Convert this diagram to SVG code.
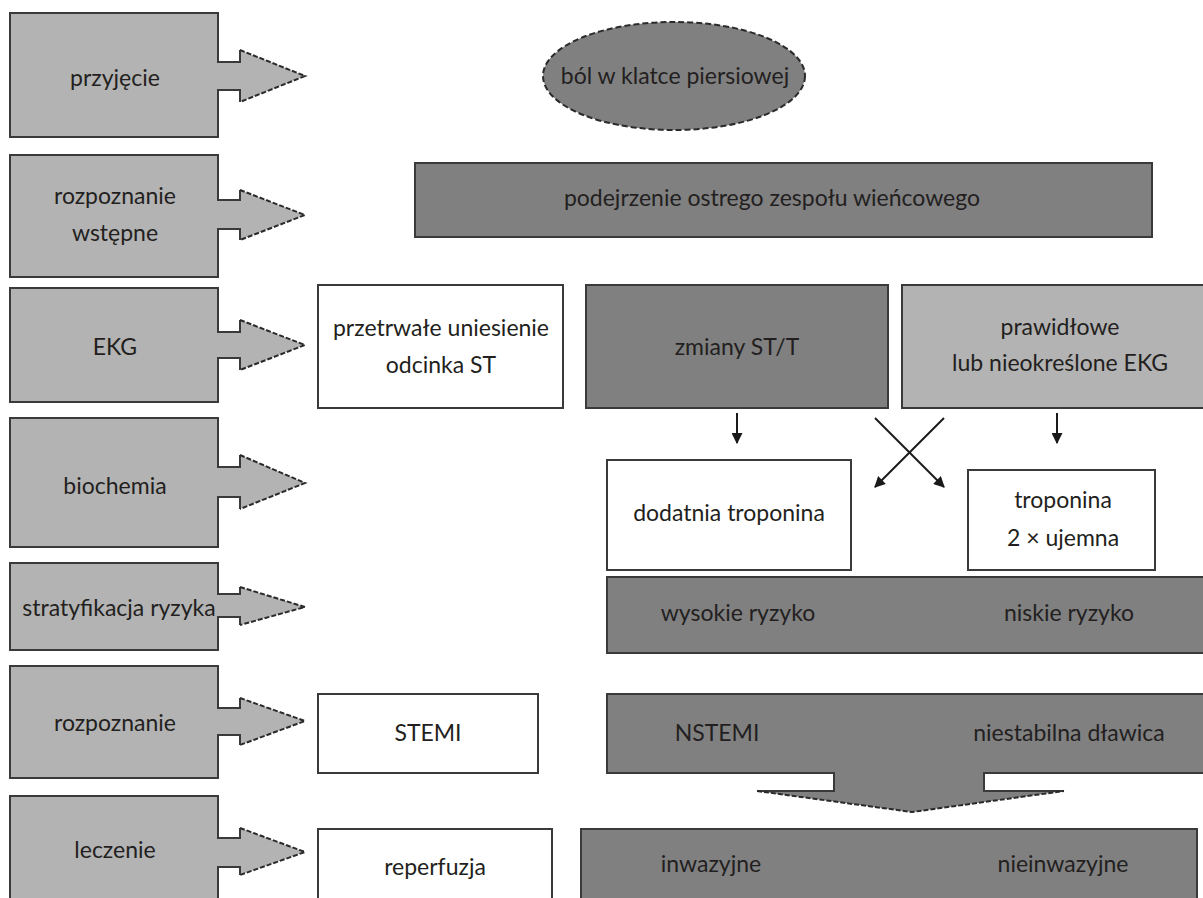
<svg xmlns="http://www.w3.org/2000/svg" width="1203" height="898" viewBox="0 0 1203 898">
<style>
text{font-family:Lato,"Noto Sans","DejaVu Sans",sans-serif;font-size:23px;fill:#231f20;text-anchor:middle}
.lf{fill:#b3b3b3;stroke:none}
.ls{fill:none;stroke:#3a3a3a;stroke-width:2}
.ld{fill:none;stroke:#2a2a2a;stroke-width:2;stroke-dasharray:5,2}
.dark{fill:#808080;stroke:#3a3a3a;stroke-width:2}
.light{fill:#b3b3b3;stroke:#3a3a3a;stroke-width:2}
.white{fill:#ffffff;stroke:#3a3a3a;stroke-width:2}
.con{fill:none;stroke:#1a1a1a;stroke-width:2}
</style>
<defs>
<marker id="ah" viewBox="0 0 10 10" refX="9" refY="5" markerWidth="5.5" markerHeight="5.5" orient="auto" markerUnits="strokeWidth">
<path d="M0,0 L10,5 L0,10 Z" fill="#1a1a1a"/>
</marker>
</defs>
<rect width="1203" height="898" fill="#ffffff"/>

<g id="n-przyjecie">
<path class="lf" d="M10,13 H218 V62 H240 V50 L305,76 L240,102 V90 H218 V137 H10 Z"/>
<path class="ls" d="M240,50 V62 H218 V13 H10 V137 H218 V90 H240 V102"/>
<path class="ld" d="M240,50 L305,76 L240,102"/>
<text x="115" y="86">przyjęcie</text>
</g>
<g id="n-rozpoznanie-wstepne">
<path class="lf" d="M10,155 H218 V200 H240 V190 L305,215 L240,240 V229 H218 V277 H10 Z"/>
<path class="ls" d="M240,190 V200 H218 V155 H10 V277 H218 V229 H240 V240"/>
<path class="ld" d="M240,190 L305,215 L240,240"/>
<text x="115" y="204">rozpoznanie</text>
<text x="115" y="241">wstępne</text>
</g>
<g id="n-ekg">
<path class="lf" d="M10,288 H218 V332 H240 V320 L305,345 L240,370 V358 H218 V402 H10 Z"/>
<path class="ls" d="M240,320 V332 H218 V288 H10 V402 H218 V358 H240 V370"/>
<path class="ld" d="M240,320 L305,345 L240,370"/>
<text x="115" y="355">EKG</text>
</g>
<g id="n-biochemia">
<path class="lf" d="M10,418 H218 V467 H240 V455 L305,483 L240,509 V497 H218 V547 H10 Z"/>
<path class="ls" d="M240,455 V467 H218 V418 H10 V547 H218 V497 H240 V509"/>
<path class="ld" d="M240,455 L305,483 L240,509"/>
<text x="115" y="494">biochemia</text>
</g>
<g id="n-stratyfikacja">
<path class="lf" d="M10,563 H218 V594 H240 V587 L305,607 L240,625 V617 H218 V650 H10 Z"/>
<path class="ls" d="M240,587 V594 H218 V563 H10 V650 H218 V617 H240 V625"/>
<path class="ld" d="M240,587 L305,607 L240,625"/>
<text x="119" y="616">stratyfikacja ryzyka</text>
</g>
<g id="n-rozpoznanie">
<path class="lf" d="M10,666 H218 V708 H240 V698 L305,721 L240,745 V735 H218 V778 H10 Z"/>
<path class="ls" d="M240,698 V708 H218 V666 H10 V778 H218 V735 H240 V745"/>
<path class="ld" d="M240,698 L305,721 L240,745"/>
<text x="115" y="731">rozpoznanie</text>
</g>
<g id="n-leczenie">
<path class="lf" d="M10,796 H218 V838 H240 V828 L305,852 L240,875 V867 H218 V910 H10 Z"/>
<path class="ls" d="M240,828 V838 H218 V796 H10 V910 M218,910 V867 H240 V875"/>
<path class="ld" d="M240,828 L305,852 L240,875"/>
<text x="115" y="858">leczenie</text>
</g>

<g id="n-bol">
<ellipse cx="674" cy="76" rx="131" ry="54" fill="#808080" stroke="#2a2a2a" stroke-width="2" stroke-dasharray="6,3"/>
<text x="675" y="84">ból w klatce piersiowej</text>
</g>
<g id="n-podejrzenie">
<rect class="dark" x="415" y="163" width="737" height="74"/>
<text x="772" y="206">podejrzenie ostrego zespołu wieńcowego</text>
</g>
<g id="n-przetrwale">
<rect class="white" x="318" y="285" width="245" height="123"/>
<text x="441" y="336">przetrwałe uniesienie</text>
<text x="441" y="373">odcinka ST</text>
</g>
<g id="n-zmiany">
<rect class="dark" x="586" y="285" width="302" height="123"/>
<text x="737" y="355">zmiany ST/T</text>
</g>
<g id="n-prawidlowe">
<rect class="light" x="902" y="285" width="311" height="123"/>
<text x="1060" y="335">prawidłowe</text>
<text x="1060" y="371">lub nieokreślone EKG</text>
</g>
<g id="n-dodatnia">
<rect class="white" x="607" y="460" width="244" height="110"/>
<text x="729" y="521">dodatnia troponina</text>
</g>
<g id="n-troponina">
<rect class="white" x="968" y="470" width="187" height="100"/>
<text x="1063" y="508">troponina</text>
<text x="1063" y="546">2 × ujemna</text>
</g>
<g id="n-ryzyko">
<rect class="dark" x="607" y="577" width="606" height="76"/>
<text x="738" y="621">wysokie ryzyko</text>
<text x="1069" y="621">niskie ryzyko</text>
</g>
<g id="n-stemi">
<rect class="white" x="318" y="694" width="220" height="79"/>
<text x="428" y="741">STEMI</text>
</g>
<g id="n-nstemi">
<path fill="#808080" stroke="none" d="M607,694 H1213 V773 H984 V791 H1064 L912,812 L757,791 H834 V773 H607 Z"/>
<path fill="none" stroke="#3a3a3a" stroke-width="2" d="M1213,694 H607 V773 H834 V791 H757 M1064,791 H984 V773 H1213"/>
<path class="ld" d="M757,791 L912,812 L1064,791"/>
<text x="717" y="741">NSTEMI</text>
<text x="1069" y="741">niestabilna dławica</text>
</g>
<g id="n-reperfuzja">
<rect class="white" x="318" y="829" width="234" height="90"/>
<text x="435" y="875">reperfuzja</text>
</g>
<g id="n-leczenie-nste">
<rect class="dark" x="581" y="829" width="616" height="90"/>
<text x="711" y="872">inwazyjne</text>
<text x="1063" y="872">nieinwazyjne</text>
</g>

<g id="connectors">
<line class="con" x1="737" y1="413" x2="737" y2="443" marker-end="url(#ah)"/>
<line class="con" x1="1057" y1="413" x2="1057" y2="443" marker-end="url(#ah)"/>
<line class="con" x1="875" y1="418" x2="944" y2="487" marker-end="url(#ah)"/>
<line class="con" x1="944" y1="418" x2="875" y2="487" marker-end="url(#ah)"/>
</g>
</svg>
